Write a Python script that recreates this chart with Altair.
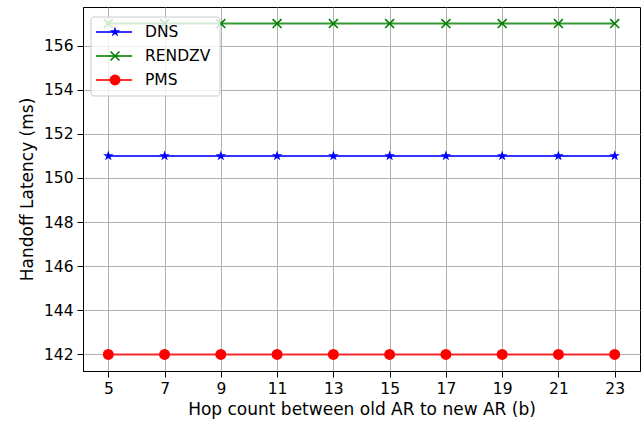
import altair as alt
import pandas as pd

hops = [5, 7, 9, 11, 13, 15, 17, 19, 21, 23]
dns = [151, 151, 151, 151, 151, 151, 151, 151, 151, 151]
rendzv = [157, 157, 157, 157, 157, 157, 157, 157, 157, 157]
pms = [142, 142, 142, 142, 142, 142, 142, 142, 142, 142]
series_names = ["DNS", "RENDZV", "PMS"]
series_colors = ["#0000ff", "#008000", "#ff0000"]
y_ticks = [142, 144, 146, 148, 150, 152, 154, 156]

rows = []
for name, vals in zip(series_names, [dns, rendzv, pms]):
    for h, v in zip(hops, vals):
        rows.append({"hop": h, "latency": v, "series": name})
df = pd.DataFrame(rows)
leg_df = pd.DataFrame({"series": series_names, "idx": list(range(len(series_names)))})
box_df = pd.DataFrame({"k": [0]})

FONT = "DejaVu Sans"
STAR = "M0,-1L0.2245,-0.309L0.951,-0.309L0.363,0.118L0.588,0.809L0,0.382L-0.588,0.809L-0.363,0.118L-0.951,-0.309L-0.2245,-0.309Z"
XMARK = "M-1,-1L1,1M-1,1L1,-1"

color = alt.Color("series:N", scale=alt.Scale(domain=series_names, range=series_colors), legend=None)
xenc = alt.X("hop:Q", scale=alt.Scale(domain=[4.1, 23.9], nice=False, zero=False),
             axis=alt.Axis(values=hops, title="Hop count between old AR to new AR (b)"))
yenc = alt.Y("latency:Q", scale=alt.Scale(domain=[141.25, 157.75], nice=False, zero=False),
             axis=alt.Axis(values=y_ticks, title="Handoff Latency (ms)"))

base = alt.Chart(df).encode(x=xenc, y=yenc, color=color)
lines = base.mark_line(strokeWidth=2, strokeOpacity=0.8).encode(detail="series:N")
stars = base.transform_filter(alt.datum.series == "DNS").mark_point(
    shape=STAR, filled=True, size=120, opacity=1)
xs = base.transform_filter(alt.datum.series == "RENDZV").mark_point(
    shape=XMARK, filled=False, size=80, strokeWidth=1.6, opacity=1)
dots = base.transform_filter(alt.datum.series == "PMS").mark_point(
    shape="circle", filled=True, size=120, opacity=1)
main = alt.layer(lines, stars, xs, dots)

ly = alt.Y("idx:Q", scale=alt.Scale(domain=[0, 2], range=[25, 73], nice=False, zero=False), axis=None)
box = alt.Chart(box_df).mark_rect(fill="white", fillOpacity=0.8, stroke="#cccccc",
                                  strokeWidth=1, cornerRadius=3).encode(
    x=alt.value(8), x2=alt.value(137), y=alt.value(10), y2=alt.value(89))
lchart = alt.Chart(leg_df).encode(y=ly, color=color)
lrule = lchart.mark_rule(strokeWidth=2, strokeOpacity=0.8).encode(x=alt.value(13), x2=alt.value(49))
lstar = lchart.transform_filter(alt.datum.series == "DNS").mark_point(
    shape=STAR, filled=True, size=120, opacity=1).encode(x=alt.value(32))
lx = lchart.transform_filter(alt.datum.series == "RENDZV").mark_point(
    shape=XMARK, filled=False, size=80, strokeWidth=1.6, opacity=1).encode(x=alt.value(32))
ldot = lchart.transform_filter(alt.datum.series == "PMS").mark_point(
    shape="circle", filled=True, size=120, opacity=1).encode(x=alt.value(32))
ltext = alt.Chart(leg_df).mark_text(align="left", baseline="middle", font=FONT,
                                    fontSize=15.5, color="black").encode(
    y=ly, x=alt.value(62), text="series:N")
legend = alt.layer(box, lrule, lstar, lx, ldot, ltext)

chart = alt.layer(main, legend).resolve_scale(y="independent").properties(
    width=557, height=364,
    autosize=alt.AutoSizeParams(type="none"),
    padding={"left": 83, "top": 7, "right": 3, "bottom": 52},
).configure_view(stroke="black", strokeWidth=1).configure_axis(
    domainColor="black", domainWidth=1, tickColor="black", tickSize=6, tickWidth=1,
    gridColor="#b0b0b0", gridWidth=1, labelFont=FONT, labelFontSize=15.5,
    labelColor="black", titleFont=FONT, titleFontSize=17, titleFontWeight="normal",
    titleColor="black", labelPadding=4,
).configure_axisX(titlePadding=5).configure_axisY(titlePadding=7)

chart.save("out.html", embed_options={"renderer": "svg", "actions": False})
